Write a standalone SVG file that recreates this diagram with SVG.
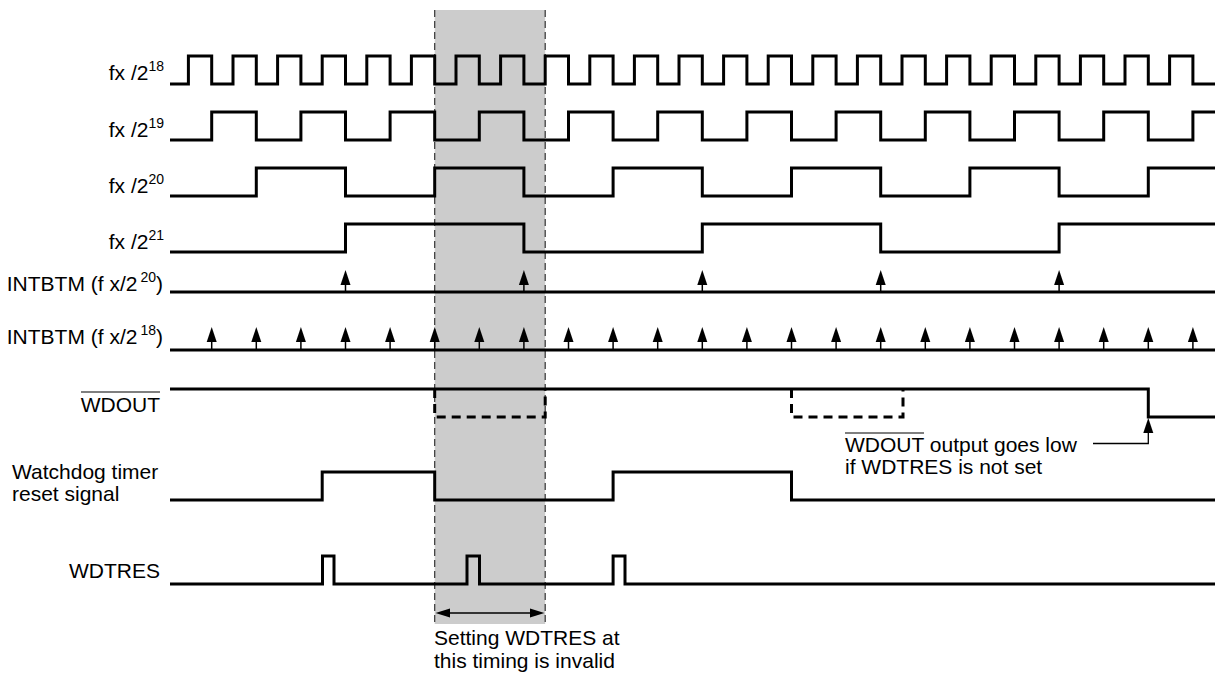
<svg xmlns="http://www.w3.org/2000/svg" xmlns:xlink="http://www.w3.org/1999/xlink" width="1216" height="677" viewBox="0 0 1216 677">
<style>
text{font-family:"Liberation Sans",Arial,Helvetica,sans-serif;font-size:21px;fill:#000}
.lbl{text-anchor:end}
.sup{font-size:14px}
.wave{fill:none;stroke:#000;stroke-width:3;stroke-linejoin:miter;stroke-linecap:butt}
.dash{fill:none;stroke:#000;stroke-width:3;stroke-dasharray:9 6}
.guide{fill:none;stroke:#333;stroke-width:1.2;stroke-dasharray:7 4}
.thin{fill:none;stroke:#000;stroke-width:1.3}
.ol{stroke:#000;stroke-width:1.2}
</style>
<defs>
<g id="arr"><line x1="0" y1="13" x2="0" y2="22" stroke="#000" stroke-width="1.5"/><path d="M0 0 L-5 15 H5 Z" fill="#000"/></g>
<g id="arr2"><line x1="0" y1="13" x2="0" y2="23" stroke="#000" stroke-width="1.5"/><path d="M0 0 L-5 15 H5 Z" fill="#000"/></g>
</defs>
<rect id="invalid-zone" x="434.7" y="10" width="110.5" height="614" fill="#cccccc"/>
<g id="guides">
<line class="guide" x1="434.7" y1="10" x2="434.7" y2="624"/>
<line class="guide" x1="545.2" y1="10" x2="545.2" y2="624"/>
</g>
<g id="fx18">
<text class="lbl" x="164" y="80">fx /2<tspan class="sup" dy="-9">18</tspan></text>
<path class="wave" d="M170 84 H188.4 V56 H211.7 V84 H233 V56 H256.3 V84 H277.6 V56 H300.9 V84 H322.2 V56 H345.5 V84 H366.8 V56 H390.1 V84 H411.4 V56 H434.7 V84 H456 V56 H479.3 V84 H500.6 V56 H523.9 V84 H545.2 V56 H568.5 V84 H589.8 V56 H613.1 V84 H634.4 V56 H657.7 V84 H679 V56 H702.3 V84 H723.6 V56 H746.9 V84 H768.2 V56 H791.5 V84 H812.8 V56 H836.1 V84 H857.4 V56 H880.7 V84 H902 V56 H925.3 V84 H946.6 V56 H969.9 V84 H991.2 V56 H1014.5 V84 H1035.8 V56 H1059.1 V84 H1080.4 V56 H1103.7 V84 H1125 V56 H1148.3 V84 H1169.6 V56 H1192.9 V84 H1215"/>
</g>
<g id="fx19">
<text class="lbl" x="164" y="137">fx /2<tspan class="sup" dy="-9">19</tspan></text>
<path class="wave" d="M170 140 H211.7 V112 H256.3 V140 H300.9 V112 H345.5 V140 H390.1 V112 H434.7 V140 H479.3 V112 H523.9 V140 H568.5 V112 H613.1 V140 H657.7 V112 H702.3 V140 H746.9 V112 H791.5 V140 H836.1 V112 H880.7 V140 H925.3 V112 H969.9 V140 H1014.5 V112 H1059.1 V140 H1103.7 V112 H1148.3 V140 H1192.9 V112 H1215"/>
</g>
<g id="fx20">
<text class="lbl" x="164" y="193">fx /2<tspan class="sup" dy="-9">20</tspan></text>
<path class="wave" d="M170 196 H256.3 V168 H345.5 V196 H434.7 V168 H523.9 V196 H613.1 V168 H702.3 V196 H791.5 V168 H880.7 V196 H969.9 V168 H1059.1 V196 H1148.3 V168 H1215"/>
</g>
<g id="fx21">
<text class="lbl" x="164" y="249">fx /2<tspan class="sup" dy="-9">21</tspan></text>
<path class="wave" d="M170 252 H345.5 V224 H523.9 V252 H702.3 V224 H880.7 V252 H1059.1 V224 H1215"/>
</g>
<g id="intbtm20">
<text class="lbl" x="163" y="291">INTBTM (f x/2<tspan class="sup" dx="3" dy="-9">20</tspan><tspan dy="9">)</tspan></text>
<line class="wave" x1="170" y1="292" x2="1215" y2="292"/>
<use xlink:href="#arr" x="345.5" y="270"/>
<use xlink:href="#arr" x="523.9" y="270"/>
<use xlink:href="#arr" x="702.3" y="270"/>
<use xlink:href="#arr" x="880.7" y="270"/>
<use xlink:href="#arr" x="1059.1" y="270"/>
</g>
<g id="intbtm18">
<text class="lbl" x="163" y="344">INTBTM (f x/2<tspan class="sup" dx="3" dy="-9">18</tspan><tspan dy="9">)</tspan></text>
<line class="wave" x1="170" y1="350" x2="1215" y2="350"/>
<use xlink:href="#arr2" x="211.7" y="327"/>
<use xlink:href="#arr2" x="256.3" y="327"/>
<use xlink:href="#arr2" x="300.9" y="327"/>
<use xlink:href="#arr2" x="345.5" y="327"/>
<use xlink:href="#arr2" x="390.1" y="327"/>
<use xlink:href="#arr2" x="434.7" y="327"/>
<use xlink:href="#arr2" x="479.3" y="327"/>
<use xlink:href="#arr2" x="523.9" y="327"/>
<use xlink:href="#arr2" x="568.5" y="327"/>
<use xlink:href="#arr2" x="613.1" y="327"/>
<use xlink:href="#arr2" x="657.7" y="327"/>
<use xlink:href="#arr2" x="702.3" y="327"/>
<use xlink:href="#arr2" x="746.9" y="327"/>
<use xlink:href="#arr2" x="791.5" y="327"/>
<use xlink:href="#arr2" x="836.1" y="327"/>
<use xlink:href="#arr2" x="880.7" y="327"/>
<use xlink:href="#arr2" x="925.3" y="327"/>
<use xlink:href="#arr2" x="969.9" y="327"/>
<use xlink:href="#arr2" x="1014.5" y="327"/>
<use xlink:href="#arr2" x="1059.1" y="327"/>
<use xlink:href="#arr2" x="1103.7" y="327"/>
<use xlink:href="#arr2" x="1148.3" y="327"/>
<use xlink:href="#arr2" x="1192.9" y="327"/>
</g>
<g id="wdout">
<text class="lbl" x="160" y="412">WDOUT</text>
<line class="ol" x1="81" y1="392" x2="160" y2="392"/>
<path class="wave" d="M170 389 H1148.3 V417 H1215"/>
<path class="dash" d="M434.7 389 V417 H545.2 V389"/>
<path class="dash" d="M791.5 389 V417 H903 V389"/>
</g>
<g id="wdt-reset">
<text x="12" y="479">Watchdog timer</text>
<text x="12" y="501">reset signal</text>
<path class="wave" d="M170 500 H322.2 V472 H434.7 V500 H613.1 V472 H791.5 V500 H1215"/>
</g>
<g id="wdtres">
<text class="lbl" x="160" y="578">WDTRES</text>
<path class="wave" d="M170 584 H322.5 V556 H334 V584 H467 V556 H479.5 V584 H613.1 V556 H625 V584 H1215"/>
</g>
<g id="note-invalid">
<text x="434" y="645">Setting WDTRES at</text>
<text x="434" y="668">this timing is invalid</text>
</g>
<g id="note-wdout">
<text x="845" y="452">WDOUT output goes low</text>
<line class="ol" x1="845" y1="433" x2="924" y2="433"/>
<text x="845" y="474">if WDTRES is not set</text>
</g>
<g id="connectors">
<path class="thin" d="M1093 443.5 H1148.3 V432"/>
<path d="M1148.3 418 L1143.3 433 H1153.3 Z" fill="#000"/>
<line class="thin" x1="448" y1="613" x2="531" y2="613"/>
<path d="M435.5 613 L450 608.5 V617.5 Z" fill="#000"/>
<path d="M544.4 613 L530 608.5 V617.5 Z" fill="#000"/>
</g>
</svg>
